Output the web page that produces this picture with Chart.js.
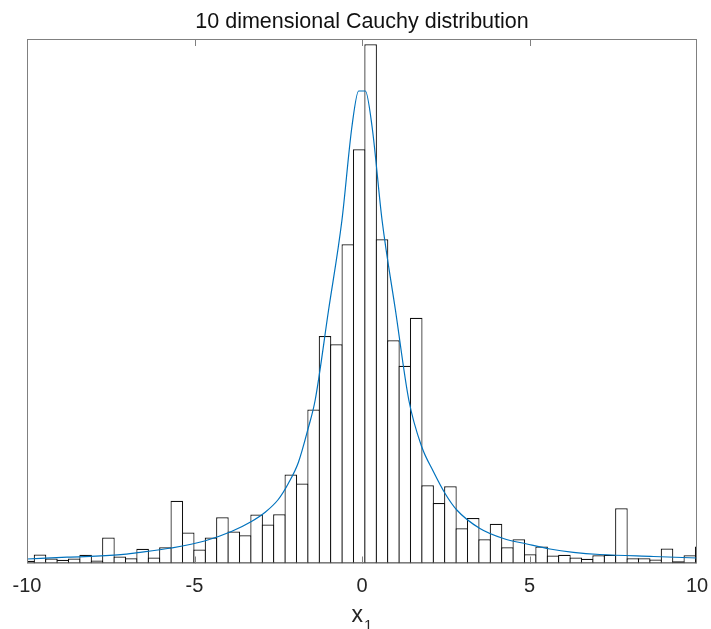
<!DOCTYPE html>
<html>
<head>
<meta charset="utf-8">
<script src="https://cdn.jsdelivr.net/npm/chart.js@4/dist/chart.umd.min.js"></script>
<style>
  body { margin: 0; background: #fff; }
  #wrap { width: 711px; height: 629px; }
</style>
</head>
<body>
<div id="wrap"><canvas id="cauchyChart"></canvas></div>
<script>
// histogram bins: first edge and width, heights
const binStart = -10.122;
const binWidth = 0.3403;
const binHeights = [
    2.7, 9, 5, 3.7, 5, 8.7, 3, 26, 7, 5.3,
    14.7, 6, 16.3, 62.7, 31, 14, 26, 46.3, 32, 28.3,
    49, 39, 49.3, 89, 80, 154, 227.5, 219.2, 319.2, 414.2,
    519.2, 324.2, 223.2, 197.8, 245.8, 78.2, 60.5, 77.2, 35.2, 45.5,
    24.3, 39.7, 16.3, 24.3, 9.3, 17, 8, 8.7, 6, 4.7,
    8.3, 8.7, 55.3, 5.3, 5.3, 4, 15, 2.3, 8.3, 17
];

const curveX = [-10, -8.8, -7.2, -6.7, -5.7, -4.7, -3.9, -3.3, -2.9, -2.5, -2.2, -1.9, -1.6, -1.4, -1.0, -0.6, -0.3, -0.1,
    0.1, 0.3, 0.6, 1.0, 1.4, 1.78, 2.13, 2.48, 2.83, 3.52, 4.22, 4.92, 5.61, 6.31, 7.1, 8.7, 10];
const curveY = [4.5, 6.3, 8.8, 10.8, 15.5, 22.5, 32, 42, 51, 64, 80, 101, 136, 163, 253, 343, 437, 472.5,
    472.5, 437, 343, 253, 163, 117, 92, 70, 53.5, 35, 25, 19.5, 14.5, 11.2, 9, 7, 5.5];

const xTicks = [-10, -5, 0, 5, 10];
const titleText = '10 dimensional Cauchy distribution';
const xLabel = 'x';
const xLabelSub = '1';

const fontFamily = '"Liberation Sans", Arial, Helvetica, sans-serif';
const axisColor = '#808080';
const textColor = '#262626';
const lineColor = '#0072BD';

const bars = binHeights.map((h, i) => ({ x: binStart + binWidth * (i + 0.5), y: h }));
const curve = curveX.map((x, i) => ({ x: x, y: curveY[i] }));

// box, inward ticks, title and x label in MATLAB style
const matlabFrame = {
    id: 'matlabFrame',
    afterDraw(chart) {
        const { ctx, chartArea: a, scales: { x } } = chart;
        ctx.save();
        ctx.strokeStyle = axisColor;
        ctx.lineWidth = 1;
        ctx.strokeRect(a.left + 0.5, a.top + 0.5, a.right - a.left - 1, a.bottom - a.top - 1);
        ctx.beginPath();
        xTicks.forEach(v => {
            if (v <= x.min || v >= x.max) return;
            const px = Math.round(x.getPixelForValue(v)) + 0.5;
            ctx.moveTo(px, a.bottom);
            ctx.lineTo(px, a.bottom - 7);
            ctx.moveTo(px, a.top);
            ctx.lineTo(px, a.top + 7);
        });
        ctx.stroke();

        const cx = (a.left + a.right) / 2;
        ctx.fillStyle = '#111';
        ctx.textAlign = 'center';
        ctx.textBaseline = 'alphabetic';
        ctx.font = '21.5px ' + fontFamily;
        ctx.fillText(titleText, cx, a.top - 10.7);

        ctx.fillStyle = textColor;
        ctx.textAlign = 'left';
        ctx.font = '23px ' + fontFamily;
        const wx = ctx.measureText(xLabel).width;
        ctx.font = '15px ' + fontFamily;
        const ws = ctx.measureText(xLabelSub).width;
        const start = cx - (wx + ws + 1) / 2;
        ctx.font = '23px ' + fontFamily;
        ctx.fillText(xLabel, start, a.bottom + 58);
        ctx.font = '15px ' + fontFamily;
        ctx.fillText(xLabelSub, start + wx + 1, a.bottom + 66.5);
        ctx.restore();
    }
};

new Chart(document.getElementById('cauchyChart'), {
    type: 'bar',
    data: {
        datasets: [{
            type: 'line',
            data: curve,
            borderColor: lineColor,
            borderWidth: 1.2,
            pointRadius: 0,
            cubicInterpolationMode: 'monotone',
            order: 0
        }, {
            type: 'bar',
            data: bars,
            backgroundColor: '#ffffff',
            borderColor: '#111111',
            borderWidth: 1.2,
            borderSkipped: false,
            categoryPercentage: 1,
            barPercentage: 1.105,
            order: 1
        }]
    },
    options: {
        responsive: true,
        maintainAspectRatio: false,
        animation: false,
        layout: { padding: { top: 39, left: 27, right: 14, bottom: 30.5 } },
        plugins: {
            legend: { display: false },
            tooltip: { enabled: false },
            title: { display: false }
        },
        scales: {
            x: {
                type: 'linear',
                min: -10,
                max: 10,
                offset: false,
                grid: { display: false, drawTicks: false, offset: false },
                border: { display: false },
                afterBuildTicks: scale => { scale.ticks = xTicks.map(v => ({ value: v })); },
                afterFit: scale => {
                    scale.height = 35;
                    scale.paddingLeft = 0;
                    scale.paddingRight = 0;
                },
                ticks: {
                    padding: 11,
                    color: textColor,
                    font: { family: fontFamily, size: 20 },
                    maxRotation: 0
                }
            },
            y: {
                display: false,
                min: 0,
                max: 524.5
            }
        }
    },
    plugins: [matlabFrame]
});
</script>
</body>
</html>
